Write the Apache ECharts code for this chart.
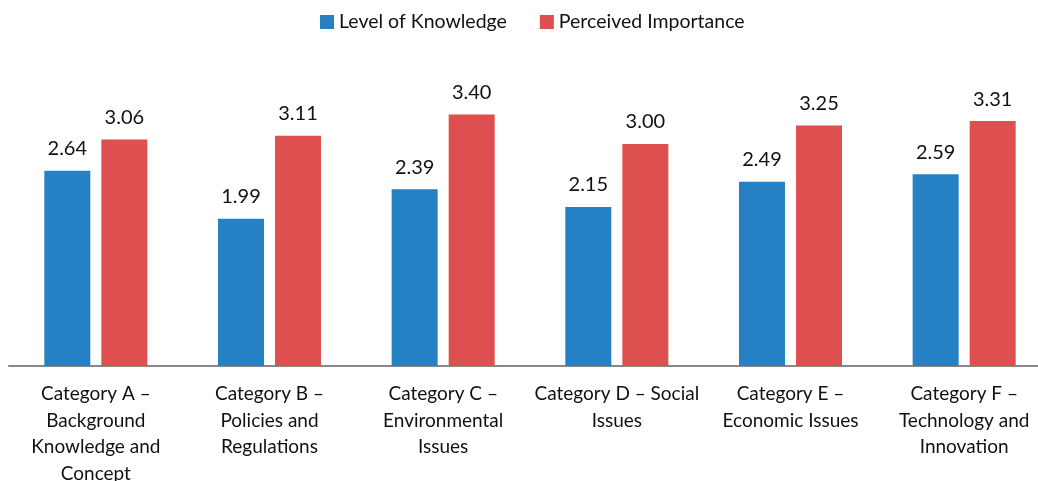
<!DOCTYPE html>
<html>
<head>
<meta charset="utf-8">
<script src="https://cdn.jsdelivr.net/npm/echarts@6/dist/echarts.min.js"></script>
<style>
  html, body { margin: 0; padding: 0; background: #fff; }
  #chart { width: 1038px; height: 481px; }
</style>
</head>
<body>
<div id="chart"></div>
<script>
const categories = [
  'Category A –\nBackground\nKnowledge and\nConcept',
  'Category B –\nPolicies and\nRegulations',
  'Category C –\nEnvironmental\nIssues',
  'Category D – Social\nIssues',
  'Category E –\nEconomic Issues',
  'Category F –\nTechnology and\nInnovation'
];
const knowledge = [2.64, 1.99, 2.39, 2.15, 2.49, 2.59];
const importance = [3.06, 3.11, 3.40, 3.00, 3.25, 3.31];

const fontFamily = 'Lato, "Open Sans", sans-serif';
const chart = echarts.init(document.getElementById('chart'));

const labelStyle = {
  show: true,
  position: 'top',
  distance: 12,
  color: '#111',
  fontSize: 20,
  fontFamily: fontFamily,
  formatter: function (p) { return p.value.toFixed(2); }
};

chart.setOption({
  animation: false,
  legend: {
    top: 12,
    left: 320,
    padding: 0,
    itemWidth: 14,
    itemHeight: 14,
    itemGap: 33,
    icon: 'rect',
    textStyle: { fontSize: 19.5, fontFamily: fontFamily, color: '#111' },
    data: ['Level of Knowledge', 'Perceived Importance']
  },
  grid: {
    left: 9, right: -13, top: 70, bottom: 115,
    containLabel: false,
    outerBoundsMode: 'none'
  },
  xAxis: {
    type: 'category',
    data: categories,
    axisLine: { lineStyle: { color: '#888', width: 2 } },
    axisTick: { show: false },
    axisLabel: {
      interval: 0,
      margin: 15,
      fontSize: 19,
      lineHeight: 26.5,
      fontFamily: fontFamily,
      color: '#111'
    }
  },
  yAxis: {
    type: 'value',
    min: 0,
    max: 4,
    show: false,
    splitLine: { show: false }
  },
  series: [
    {
      name: 'Level of Knowledge',
      type: 'bar',
      data: knowledge,
      barWidth: 46,
      barGap: '24%',
      itemStyle: { color: '#2581C4' },
      label: labelStyle
    },
    {
      name: 'Perceived Importance',
      type: 'bar',
      data: importance,
      barWidth: 46,
      itemStyle: { color: '#DE504F' },
      label: labelStyle
    }
  ]
});
</script>
</body>
</html>
